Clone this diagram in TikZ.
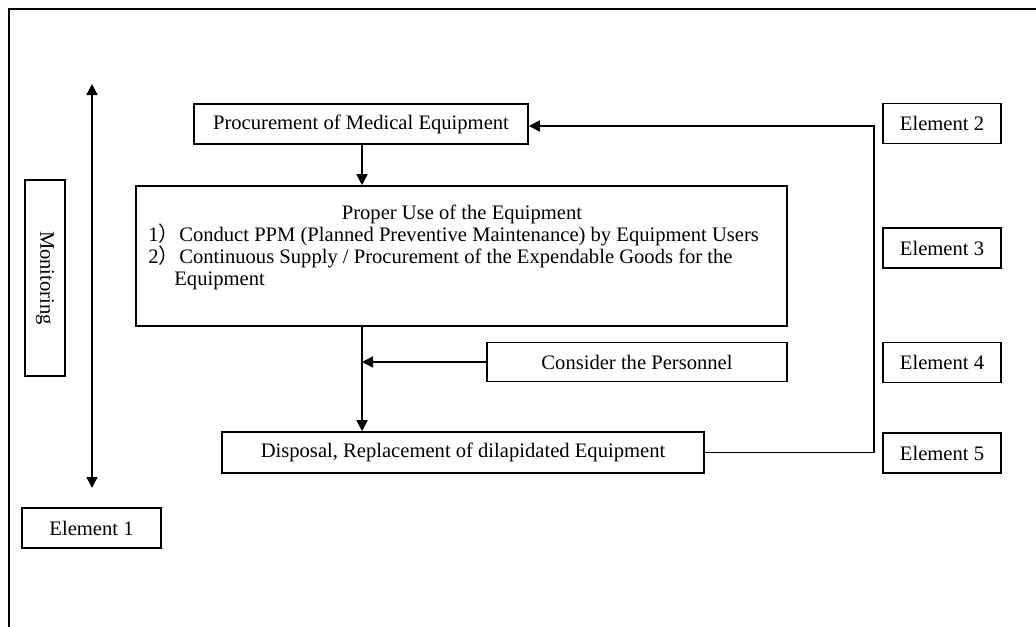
\documentclass[tikz,border=0pt]{standalone}
\usepackage{fontspec}
\setmainfont{Liberation Serif}
\newfontfamily\cjk{Noto Sans CJK SC}
\usepackage{tikz}
\usetikzlibrary{arrows.meta,positioning}

\begin{document}
\begin{tikzpicture}[x=0.5pt,y=-0.5pt,
    font=\fontsize{10.3}{12}\selectfont,
    blk/.style={draw, line width=0.8pt, inner sep=0pt},
    elem/.style={blk, minimum width=59pt, minimum height=20pt},
    txt/.style={inner sep=0pt, anchor=base west},
    arr/.style={line width=0.8pt, -{Triangle[length=5.5pt,width=5.5pt]}}]
    \useasboundingbox (0,0) rectangle (1036,626);

    % frame
    \draw[line width=0.8pt] (1040,9) -- (9,9) -- (9,630);

    % main flow
    \node[blk, minimum width=167pt, minimum height=20pt] (proc) at (361,124) {Procurement of Medical Equipment};
    \node[blk, minimum width=325.5pt, minimum height=70pt] (use) at (461.5,256) {};
    \node[txt, anchor=base] (usetitle) at (462,219) {Proper Use of the Equipment};
    \node[txt] (useone) at (148,241) {1{\cjk ）}Conduct PPM (Planned Preventive Maintenance) by Equipment Users};
    \node[txt] (usetwo) at (148,263) {2{\cjk ）}Continuous Supply / Procurement of the Expendable Goods for the};
    \node[txt] (usetwob) at (174,285) {Equipment};
    \node[blk, minimum width=150pt, minimum height=19.5pt] (pers) at (637,362) {Consider the Personnel};
    \node[blk, minimum width=241pt, minimum height=20.5pt] (disp) at (463,452.5) {Disposal, Replacement of dilapidated Equipment};

    % monitoring
    \node[blk, minimum width=20pt, minimum height=98pt] (mon) at (45,278) {};
    \node[rotate=-90, inner sep=0pt] (montxt) at (45,278) {Monitoring};
    \coordinate (montop) at (92,84);
    \coordinate (monbot) at (92,488);

    % elements
    \node[blk, minimum width=69.5pt, minimum height=20pt] (el1) at (91.5,528) {Element 1};
    \node[elem] (el2) at (942,123.5) {Element 2};
    \node[elem] (el3) at (942,248) {Element 3};
    \node[elem] (el4) at (942,362.5) {Element 4};
    \node[elem] (el5) at (942,453) {Element 5};

    % connectors
    \coordinate (jn) at (362,362);
    \coordinate (ret) at (874,126);
    \draw[arr] (proc.south -| jn) -- (use.north -| jn);
    \draw[arr] (use.south -| jn) -- (disp.north -| jn);
    \draw[arr] (pers.west) -- (pers.west -| jn);
    \draw[arr] (disp.east) -| (ret) -- (ret -| proc.east);
    \draw[arr, {Triangle[length=5.5pt,width=5.5pt]}-{Triangle[length=5.5pt,width=5.5pt]}] (montop) -- (monbot);
\end{tikzpicture}
\end{document}
